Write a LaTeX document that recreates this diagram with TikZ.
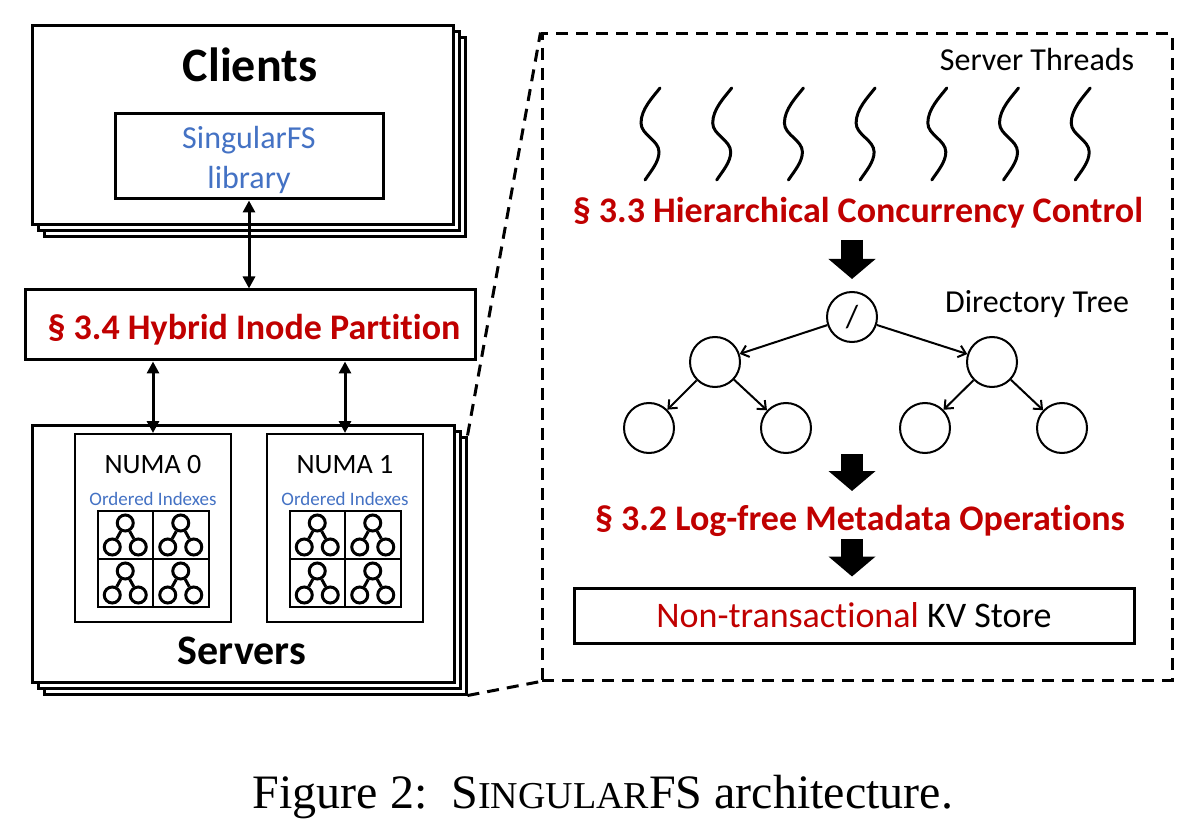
\documentclass[tikz,border=0pt]{standalone}
\usepackage{fontspec}
\setmainfont{Carlito}[Ligatures=NoCommon]
\newfontfamily\capfont{Liberation Serif}
\usetikzlibrary{arrows.meta,shadows}
\usepackage{xcolor}
\definecolor{secred}{HTML}{C00000}
\definecolor{libblue}{HTML}{4472C4}

\tikzset{
    idxnode/.style={circle, draw, line width=1.5pt, minimum size=8pt, inner sep=0pt},
    idxtree/.pic={
        \node[idxnode] (-t) at (0,-12) {};
        \node[idxnode] (-l) at (-13,12) {};
        \node[idxnode] (-r) at (13,12) {};
        \draw[line width=1.5pt] (-t) -- (-l) (-t) -- (-r);
    },
}

\begin{document}
\begin{tikzpicture}[
    x=0.5pt, y=-0.5pt,
    box/.style={draw, line width=1.5pt, fill=white, inner sep=0pt},
    stackbox/.style={box,
        copy shadow={shadow xshift=6pt, shadow yshift=-6pt, draw, fill=white},
        copy shadow={shadow xshift=3pt, shadow yshift=-3pt, draw, fill=white}},
    numabox/.style={draw, line width=1pt, inner sep=0pt, minimum width=78pt, minimum height=94pt},
    gridline/.style={line width=1pt},
    dnode/.style={circle, draw, line width=1pt, minimum size=25pt, inner sep=0pt},
    dedge/.style={line width=1pt, -{Straight Barb[length=3.5pt,width=6pt]}},
    link/.style={line width=1.5pt, {Triangle[width=6pt,length=6pt]}-{Triangle[width=6pt,length=6pt]}},
    fatarrow/.style={line width=11pt, -{Triangle[width=23pt,length=10pt]}},
    zoomline/.style={line width=1.5pt, dash pattern=on 6pt off 4pt},
    thread/.style={line width=1.5pt, line cap=round},
    heading/.style={font=\fontsize{18}{18}\selectfont\bfseries, text=secred},
    plain/.style={font=\fontsize{16}{16}\selectfont},
]
\useasboundingbox (0,0) rectangle (1202,833);

% clients
\node[stackbox, minimum width=210.5pt, minimum height=99.5pt] (clients) at (242.5,125.5) {};
\node[font=\fontsize{24}{24}\selectfont\bfseries] (cltitle) at (250,65) {Clients};
\node[box, minimum width=134pt, minimum height=42.5pt] (lib) at (249,156.5) {};
\node[align=center, text=libblue, font=\fontsize{16}{20}\selectfont] (libtext) at (249,159.5) {SingularFS\\library};

% partition
\node[box, minimum width=225pt, minimum height=35pt] (part) at (250,325) {};
\node[heading] (h34) at (254,330) {§ 3.4 Hybrid Inode Partition};

% servers
\node[stackbox, minimum width=211pt, minimum height=128.5pt] (servers) at (243,553.5) {};
\node[font=\fontsize{21}{21}\selectfont\bfseries] (svtitle) at (242,651) {Servers};
\foreach \n/\x in {0/153, 1/345} {
    \node[numabox] (numa\n) at (\x,528) {};
    \node[font=\fontsize{14}{14}\selectfont] (numa\n-name) at (\x,465) {NUMA \n};
    \node[font=\fontsize{9.5}{9.5}\selectfont, text=libblue] (numa\n-idx) at (\x,499) {Ordered Indexes};
    \draw[gridline] (\x-55.5,511) rectangle (\x+55.5,607);
    \draw[gridline] (\x,511) -- (\x,607) (\x-55.5,559) -- (\x+55.5,559);
    \foreach \cx/\cy [count=\k] in {-27.75/535, 27.75/535, -27.75/583, 27.75/583}
        \pic (tr\n\k) at (\x+\cx,\cy) {idxtree};
}

\draw[link] (lib.south) -- (lib.south |- part.north);
\draw[link] (numa0.north |- part.south) -- (numa0.north);
\draw[link] (numa1.north |- part.south) -- (numa1.north);

% zoomed server
\node[draw, zoomline, minimum width=315pt, minimum height=323pt, inner sep=0pt] (zoom) at (857,357) {};
\draw[zoomline] ([shift={(12,12)}]servers.north east) -- (zoom.north west);
\draw[zoomline] ([shift={(12,12)}]servers.south east) -- (zoom.south west);

\node[plain] (thrlbl) at (1037,60) {Server Threads};
\foreach \i in {0,...,6}
    \draw[thread] ({660+71.7*\i},88) .. controls +(-7,9) and +(0,-14) .. ++(-19,35)
        .. controls +(0,12) and +(0,-12) .. ++(18,29)
        .. controls +(0,10) and +(6,-9) .. ++(-14,28);

\node[heading] (h33) at (858,213) {§ 3.3 Hierarchical Concurrency Control};

% directory tree
\node[dnode, plain] (root) at (852,317) {/};
\node[dnode] (dl) at (715,362) {};
\node[dnode] (dr) at (992,362) {};
\node[dnode] (dll) at (649,428) {};
\node[dnode] (dlr) at (786,428) {};
\node[dnode] (drl) at (925,428) {};
\node[dnode] (drr) at (1062,428) {};
\node[plain] (treelbl) at (1037,304) {Directory Tree};
\draw[dedge] (root) -- (dl);
\draw[dedge] (root) -- (dr);
\draw[dedge] (dl) -- (dll);
\draw[dedge] (dl) -- (dlr);
\draw[dedge] (dr) -- (drl);
\draw[dedge] (dr) -- (drr);

\node[heading] (h32) at (860,521) {§ 3.2 Log-free Metadata Operations};
\node[box, minimum width=280pt, minimum height=27.5pt, font=\fontsize{18}{18}\selectfont] (kv) at (854,615.5)
    {\textcolor{secred}{Non-transactional} KV Store};

\draw[fatarrow] (root.center |- 0,240) -- ([yshift=6pt]root.north);
\draw[fatarrow] (root.center |- dll.south) -- (root.center |- 0,491);
\draw[fatarrow] (root.center |- 0,539) -- ([yshift=5pt]root.center |- kv.north);

% caption
\node[font=\capfont\fontsize{24}{24}\selectfont] (caption) at (603,797)
    {Figure 2:\ \ S{\fontsize{19}{19}\selectfont INGULAR}FS architecture.};

\end{tikzpicture}
\end{document}
